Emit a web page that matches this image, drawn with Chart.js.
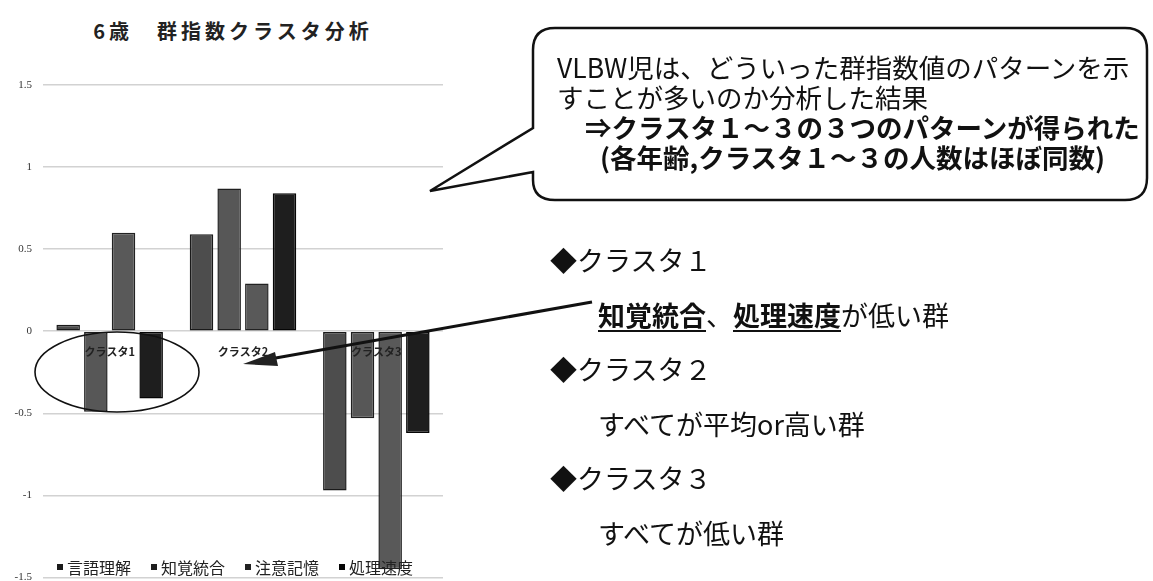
<!DOCTYPE html>
<html lang="ja">
<head>
<meta charset="utf-8">
<title>6歳 群指数クラスタ分析</title>
<script src="https://cdn.jsdelivr.net/npm/chart.js@4.4.1/dist/chart.umd.min.js"></script>
<style>
  html, body { margin: 0; padding: 0; background: #fff; }
  body { width: 1153px; height: 581px; position: relative; overflow: hidden;
         font-family: "Noto Sans CJK JP", "Noto Sans", sans-serif; color: #111; }
  #chartTitle { position: absolute; left: 0; width: 466px; top: 16px; text-align: center;
                font-size: 20px; font-weight: bold; letter-spacing: 4px; color: #222; }
  #clusterChart { position: absolute; left: 0; top: 0; }
  #legend { position: absolute; left: 57px; top: 555px; display: flex; font-size: 16px; color: #222; }
  #legend .item { display: flex; align-items: center; width: 94px; white-space: nowrap; }
  #legend .swatch { width: 6px; height: 6px; margin-right: 4px; }
  #overlay { position: absolute; left: 0; top: 0; }
  .callout { position: absolute; left: 557px; top: 52px; font-size: 26.5px; line-height: 30px; white-space: nowrap; }
  .callout .b { font-weight: bold; }
  .notes { position: absolute; left: 550px; top: 233px; font-size: 27px; line-height: 54.5px; white-space: nowrap; }
  .notes .sub { padding-left: 48px; }
  .notes u { font-weight: bold; text-underline-offset: 4px; }
</style>
</head>
<body>
<div id="chartTitle">6歳　群指数クラスタ分析</div>
<canvas id="clusterChart" width="460" height="595"></canvas>
<div id="legend"></div>

<svg id="overlay" width="1153" height="581">
  <!-- speech bubble with its tail pointing at the chart -->
  <path d="M 555 28 L 1125 28 Q 1147 28 1147 50 L 1147 178 Q 1147 200 1125 200 L 555 200 Q 533 200 533 180 L 533 172 L 430 191 L 533 128 L 533 50 Q 533 28 555 28 Z"
        fill="#fff" stroke="#111" stroke-width="2.5"/>
  <!-- ring around cluster 1 -->
  <ellipse cx="117" cy="372" rx="82" ry="40" fill="none" stroke="#111" stroke-width="1.6"/>
  <!-- pointer from the cluster 1 note -->
  <line x1="592" y1="302" x2="270" y2="359" stroke="#111" stroke-width="3"/>
  <polygon points="243,364 275,352 278,366" fill="#222"/>
</svg>

<div class="callout">
  <div>VLBW児は、どういった群指数値のパターンを示</div>
  <div>すことが多いのか分析した結果</div>
  <div class="b" style="padding-left:28px">⇒クラスタ１～３の３つのパターンが得られた</div>
  <div class="b" style="padding-left:43px">(各年齢,クラスタ１～３の人数はほぼ同数)</div>
</div>

<div class="notes">
  <div>◆クラスタ１</div>
  <div class="sub"><u>知覚統合</u>、<u>処理速度</u>が低い群</div>
  <div>◆クラスタ２</div>
  <div class="sub">すべてが平均or高い群</div>
  <div>◆クラスタ３</div>
  <div class="sub">すべてが低い群</div>
</div>

<script>
// clusters on the x axis
const clusters = ['クラスタ1', 'クラスタ2', 'クラスタ3'];

// group index scores per cluster (z-score style means)
const gengoRikai  = [0.04, 0.59, -0.97];   // 言語理解
const chikakuTougou = [-0.49, 0.87, -0.53]; // 知覚統合
const chuuiKioku  = [0.60, 0.29, -1.45];   // 注意記憶
const shoriSokudo = [-0.41, 0.84, -0.62];  // 処理速度

const seriesNames = ['言語理解', '知覚統合', '注意記憶', '処理速度'];
const seriesFill = ['#4d4d4d', '#575757', '#595959', '#1e1e1e'];
const seriesEdge = ['#1a1a1a', '#1f1f1f', '#222222', '#050505'];

const yTicks = [-1.5, -1, -0.5, 0, 0.5, 1, 1.5];

const seriesData = [gengoRikai, chikakuTougou, chuuiKioku, shoriSokudo];

const datasets = seriesNames.map((name, i) => ({
    label: name,
    data: seriesData[i],
    backgroundColor: seriesFill[i],
    borderColor: seriesEdge[i],
    borderWidth: 1.5,
    borderSkipped: false,
    barPercentage: 0.85,
    categoryPercentage: 0.83
}));

const chart = new Chart(document.getElementById('clusterChart'), {
    type: 'bar',
    data: { labels: clusters, datasets: datasets },
    options: {
        responsive: false,
        animation: false,
        layout: { padding: { top: 85, right: 17, bottom: 4, left: 0 } },
        plugins: {
            legend: { display: false },
            title: { display: false },
            tooltip: { enabled: false }
        },
        scales: {
            x: {
                position: { y: 0 },
                grid: { display: false },
                border: { display: false },
                ticks: {
                    z: 1, // category names sit on top of the bars
                    padding: 6,
                    color: '#222',
                    font: { family: '"Noto Sans CJK JP", sans-serif', size: 11, weight: 'bold' }
                }
            },
            y: {
                min: -1.5,
                max: 1.5,
                afterBuildTicks: axis => { axis.ticks = yTicks.map(v => ({ value: v })); },
                afterFit: axis => { axis.width = 43; },
                grid: { color: '#d2d2d2', lineWidth: 1.5, drawTicks: false },
                border: { display: false },
                ticks: {
                    padding: 11,
                    color: '#333',
                    font: { family: '"Liberation Serif", serif', size: 11 },
                    callback: v => String(v)
                }
            }
        }
    }
});

// legend row below the plot, built from the datasets
const legendBox = document.getElementById('legend');
chart.data.datasets.forEach(ds => {
    const item = document.createElement('div');
    item.className = 'item';
    item.innerHTML = `<span class="swatch" style="background:${ds.borderColor}"></span>${ds.label}`;
    legendBox.appendChild(item);
});
</script>
</body>
</html>
